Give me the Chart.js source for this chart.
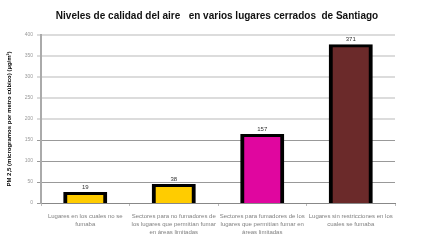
<!DOCTYPE html>
<html lang="es">
<head>
    <meta charset="UTF-8">
    <title>Niveles de calidad del aire</title>
    <style>
        html, body { margin: 0; padding: 0; background: #fff; }
        #wrap { width: 430px; height: 250px; position: relative; }
    </style>
    <script src="https://cdn.jsdelivr.net/npm/chart.js@4.4.0/dist/chart.umd.min.js"></script>
</head>
<body>
    <div id="wrap">
        <canvas id="bar-chart" width="430" height="250"></canvas>
    </div>
    <script>
        const titulo = 'Niveles de calidad del aire   en varios lugares cerrados  de Santiago';
        const lugares = [
            ['Lugares en los cuales no se', 'fumaba'],
            ['Sectores para no fumadores de', 'los lugares que permitían fumar', 'en áreas limitadas'],
            ['Sectores para fumadores de los', 'lugares que permitían fumar en', 'áreas limitadas'],
            ['Lugares sin restricciones en los', 'cuales se fumaba']
        ];
        const pm25 = [19, 38, 157, 371];
        const colores = ['#ffcc00', '#ffcc00', '#e0069f', '#6b2a2a'];
        const yTicks = [0, 50, 100, 150, 200, 250, 300, 350, 400];

        // titulo centrado sobre todo el lienzo + numeros encima de las barras
        const textos = {
            id: 'textos',
            afterDatasetsDraw(chart) {
                const ctx = chart.ctx;
                ctx.save();
                ctx.font = 'bold 10px "Liberation Sans", Arial, sans-serif';
                ctx.fillStyle = '#111';
                ctx.textAlign = 'center';
                ctx.textBaseline = 'middle';
                ctx.fillText(titulo, 217, 16);

                ctx.font = '6px "Liberation Sans", Arial, sans-serif';
                ctx.fillStyle = '#333';
                ctx.textBaseline = 'bottom';
                chart.getDatasetMeta(0).data.forEach(function (bar, i) {
                    ctx.fillText(pm25[i], bar.x, bar.y - 5);
                });
                ctx.restore();
            }
        };

        new Chart(document.getElementById('bar-chart').getContext('2d'), {
            type: 'bar',
            data: {
                labels: lugares,
                datasets: [{
                    data: pm25,
                    backgroundColor: colores,
                    borderColor: '#000',
                    borderWidth: { top: 3, left: 4, right: 4, bottom: 2 },
                    borderSkipped: false,
                    inflateAmount: 3,
                    barPercentage: 0.43,
                    categoryPercentage: 1
                }]
            },
            options: {
                responsive: false,
                animation: false,
                layout: { padding: { top: 35, right: 35, bottom: 0, left: 0 } },
                plugins: {
                    legend: { display: false },
                    tooltip: { enabled: false },
                    title: { display: false }
                },
                scales: {
                    x: {
                        grid: { display: true, drawOnChartArea: false, offset: true, tickLength: 3, color: '#bbb' },
                        border: { color: '#888', width: 1 },
                        ticks: {
                            color: '#808080',
                            font: { family: '"Liberation Sans", Arial', size: 6, lineHeight: 1.35 },
                            maxRotation: 0,
                            autoSkip: false,
                            padding: 6
                        },
                        afterFit(scale) { scale.height = 47; }
                    },
                    y: {
                        min: 0,
                        max: 400,
                        afterBuildTicks(scale) { scale.ticks = yTicks.map(v => ({ value: v })); },
                        grid: {
                            color: ctx => ctx.tick && ctx.tick.value >= 200 ? '#dcdcdc' : '#999',
                            lineWidth: ctx => ctx.tick && ctx.tick.value >= 200 ? 2 : 1,
                            tickLength: 4
                        },
                        border: { color: '#aaa', width: 2 },
                        ticks: {
                            color: '#999',
                            font: { family: '"Liberation Sans", Arial', size: 5 },
                            padding: 4
                        },
                        title: {
                            display: true,
                            text: 'PM 2,5 (microgramos por metro cúbico) (µg/m³)',
                            color: '#000',
                            font: { family: '"Liberation Sans", Arial', size: 6, weight: 'bold' },
                            padding: { top: 6, bottom: 5 }
                        },
                        afterFit(scale) { scale.width = 41; }
                    }
                }
            },
            plugins: [textos]
        });
    </script>
</body>
</html>
